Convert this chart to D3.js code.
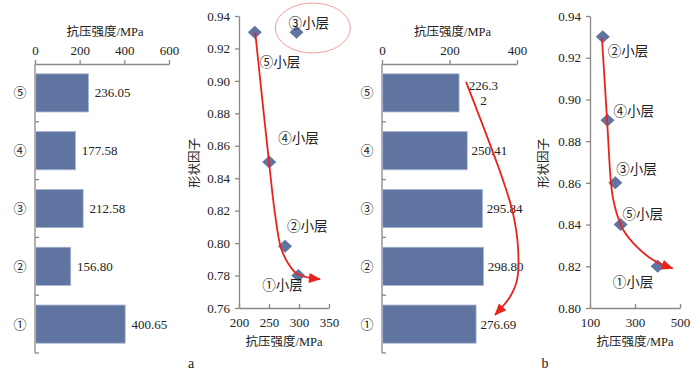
<!DOCTYPE html>
<html>
<head>
<meta charset="utf-8">
<script src="https://cdn.jsdelivr.net/npm/d3@7/dist/d3.min.js"></script>
<style>
    body { margin: 0; background: #fff; }
    svg text { font-family: "Liberation Serif", "Times New Roman", "Noto Sans CJK SC", serif; fill: #222; }
</style>
</head>
<body>
<div id="chart"></div>
<script>
// ---- data ----
const layers = ["⑤", "④", "③", "②", "①"];
const strengthA = [236.05, 177.58, 212.58, 156.80, 400.65];
const strengthB = [226.32, 250.41, 295.84, 298.80, 276.69];
const barLabelsA = [["236.05"], ["177.58"], ["212.58"], ["156.80"], ["400.65"]];
const barLabelsB = [["226.3", "2"], ["250.41"], ["295.84"], ["298.80"], ["276.69"]];
const barTicksA = [0, 200, 400, 600];
const barTicksB = [0, 200, 400];

const pointLabels = ["⑤小层", "④小层", "③小层", "②小层", "①小层"];
const shapeStrengthA = [226.32, 250.41, 295.84, 276.69, 298.80];
const shapeFactorA = [0.93, 0.85, 0.93, 0.798, 0.78];
const shapeStrengthB = [236.05, 177.58, 212.58, 156.80, 400.65];
const shapeFactorB = [0.84, 0.89, 0.86, 0.93, 0.82];
const scatterXTicksA = [200, 250, 300, 350];
const scatterXTicksB = [100, 300, 500];
const scatterYTicksA = [0.76, 0.78, 0.80, 0.82, 0.84, 0.86, 0.88, 0.90, 0.92, 0.94];
const scatterYTicksB = [0.80, 0.82, 0.84, 0.86, 0.88, 0.90, 0.92, 0.94];

// hand-drawn red trend arrows (data units)
const trendA = [[227, 0.93], [250, 0.85], [260, 0.818], [270, 0.797], [282, 0.7875], [297, 0.781], [335, 0.7778]];
const trendB = [[153, 0.9295], [176, 0.89], [192, 0.8614], [201, 0.8534], [218.5, 0.8454], [248, 0.8374], [307.5, 0.8294], [381, 0.823], [467, 0.819]];
// arrow over bar chart b: [strength, row position (0 = top of axis, 5 = bottom)]
const trendBarB = [[249, 0.31], [358, 2.0], [388, 2.58], [403, 3.17], [400, 3.74], [379, 4.03], [335, 4.34]];
const highlightA = [323, 0.9326];

const AXIS = "#8c8782";
const BAR = "#5f74a0";
const RED = "#e8231c";

const svg = d3.select("#chart").append("svg")
    .attr("width", 700)
    .attr("height", 376);

svg.append("defs").append("marker")
    .attr("id", "arrow")
    .attr("viewBox", "0 0 12 10")
    .attr("refX", 11)
    .attr("refY", 5)
    .attr("markerWidth", 13)
    .attr("markerHeight", 10)
    .attr("markerUnits", "userSpaceOnUse")
    .attr("orient", "auto")
    .append("path")
    .attr("d", "M0,0 L12,5 L0,10 Z")
    .attr("fill", RED);

function styleAxis(g) {
    g.selectAll("path, line").attr("stroke", AXIS).attr("stroke-width", 1.3);
    g.selectAll("text").attr("font-size", 13).attr("fill", "#222")
        .style("font-family", '"Liberation Serif", "Times New Roman", serif');
}

function drawBars(cfg) {
    const x = d3.scaleLinear().domain(cfg.domain).range(cfg.xRange);
    const y = d3.scaleBand().domain(layers).range([64, 353]).paddingInner(0.34).paddingOuter(0.17);

    const g = svg.append("g");

    // top value axis
    g.append("g")
        .attr("transform", "translate(0,64)")
        .call(d3.axisTop(x).tickValues(cfg.ticks).tickFormat(d3.format("d")).tickSize(4).tickSizeOuter(0).tickPadding(5))
        .call(styleAxis);

    g.append("text")
        .attr("x", (cfg.xRange[0] + cfg.xRange[1]) / 2 + 3)
        .attr("y", 32)
        .attr("text-anchor", "middle")
        .attr("dominant-baseline", "central")
        .attr("font-size", 12.5)
        .text("抗压强度/MPa");

    // category axis
    g.append("line")
        .attr("x1", cfg.xRange[0]).attr("x2", cfg.xRange[0])
        .attr("y1", 64).attr("y2", 353)
        .attr("stroke", AXIS).attr("stroke-width", 1.3);
    const bounds = layers.map((d, i) => 64 + i * y.step()).concat([353]);
    g.selectAll(".cat-tick")
        .data(bounds.slice(1))
        .join("line")
        .attr("class", "cat-tick")
        .attr("x1", cfg.xRange[0]).attr("x2", cfg.xRange[0] + 4)
        .attr("y1", d => d).attr("y2", d => d)
        .attr("stroke", AXIS).attr("stroke-width", 1.3);
    g.selectAll(".cat-label")
        .data(layers)
        .join("text")
        .attr("class", "cat-label")
        .attr("x", cfg.catX)
        .attr("y", d => y(d) + y.bandwidth() / 2)
        .attr("text-anchor", "middle")
        .attr("dominant-baseline", "central")
        .attr("font-size", 13)
        .text(d => d);

    g.selectAll("rect")
        .data(cfg.values)
        .join("rect")
        .attr("x", x(0) + 0.7)
        .attr("y", (d, i) => y(layers[i]))
        .attr("width", d => x(d) - x(0))
        .attr("height", y.bandwidth())
        .attr("fill", BAR)
        .attr("stroke", "#a8b5cf")
        .attr("stroke-width", 0.8);

    const labels = g.selectAll(".val")
        .data(cfg.labels)
        .join("text")
        .attr("class", "val")
        .attr("font-size", 13)
        .attr("text-anchor", d => d.length > 1 ? "middle" : "start")
        .attr("x", (d, i) => x(cfg.values[i]) + (d.length > 1 ? 25 : cfg.labelGap))
        .attr("y", (d, i) => y(layers[i]) + y.bandwidth() / 2 - (d.length - 1) * 7.5);
    labels.selectAll("tspan")
        .data(d => d)
        .join("tspan")
        .attr("x", function () { return this.parentNode.getAttribute("x"); })
        .attr("dy", (d, i) => i === 0 ? "0.35em" : "1.15em")
        .text(d => d);

    return { x, y };
}

function drawScatter(cfg) {
    const x = d3.scaleLinear().domain(cfg.xDomain).range(cfg.xRange);
    const y = d3.scaleLinear().domain(cfg.yDomain).range([308, 16]);
    const g = svg.append("g");

    g.append("g")
        .attr("transform", `translate(${cfg.xRange[0]},0)`)
        .call(d3.axisLeft(y).tickValues(cfg.yTicks).tickFormat(d3.format(".2f")).tickSize(4).tickSizeOuter(0).tickPadding(5))
        .call(styleAxis);

    g.append("g")
        .attr("transform", "translate(0,308)")
        .call(d3.axisBottom(x).tickValues(cfg.xTicks).tickFormat(d3.format("d")).tickSize(-4).tickSizeOuter(0).tickPadding(10))
        .call(styleAxis);

    g.append("text")
        .attr("x", (cfg.xRange[0] + cfg.xRange[1]) / 2)
        .attr("y", 342)
        .attr("text-anchor", "middle")
        .attr("dominant-baseline", "central")
        .attr("font-size", 12.5)
        .text("抗压强度/MPa");

    g.append("text")
        .attr("transform", `translate(${cfg.yTitleX},163) rotate(-90)`)
        .attr("text-anchor", "middle")
        .attr("dominant-baseline", "central")
        .attr("font-size", 12.5)
        .text("形状因子");

    const line = d3.line()
        .x(d => x(d[0]))
        .y(d => y(d[1]))
        .curve(d3.curveCatmullRom.alpha(0.5));

    g.selectAll(".pt")
        .data(cfg.xs)
        .join("path")
        .attr("class", "pt")
        .attr("transform", (d, i) => `translate(${x(d)},${y(cfg.ys[i])})`)
        .attr("d", "M0,-6.5L7,0L0,6.5L-7,0Z")
        .attr("fill", BAR);

    g.append("path")
        .attr("d", line(cfg.trend))
        .attr("fill", "none")
        .attr("stroke", RED)
        .attr("stroke-width", 1.8)
        .attr("marker-end", "url(#arrow)");

    g.selectAll(".pl")
        .data(pointLabels)
        .join("text")
        .attr("class", "pl")
        .attr("x", (d, i) => x(cfg.xs[i]) + cfg.offsets[i][0])
        .attr("y", (d, i) => y(cfg.ys[i]) + cfg.offsets[i][1])
        .attr("dominant-baseline", "central")
        .attr("font-size", 13.5)
        .text(d => d);

    return { x, y, g };
}

drawBars({ domain: [0, 600], xRange: [35, 169], ticks: barTicksA, values: strengthA, labels: barLabelsA, catX: 20, labelGap: 7 });
const barB = drawBars({ domain: [0, 400], xRange: [382, 517], ticks: barTicksB, values: strengthB, labels: barLabelsB, catX: 367, labelGap: 5 });

const rowY = d3.scaleLinear().domain([0, 5]).range([64, 353]);
svg.append("path")
    .attr("d", d3.line().x(d => barB.x(d[0])).y(d => rowY(d[1])).curve(d3.curveCatmullRom.alpha(0.5))(trendBarB))
    .attr("fill", "none")
    .attr("stroke", RED)
    .attr("stroke-width", 1.8)
    .attr("marker-end", "url(#arrow)");

const scA = drawScatter({
    xDomain: [200, 350], xRange: [239, 329], yDomain: [0.76, 0.94],
    xTicks: scatterXTicksA, yTicks: scatterYTicksA, xs: shapeStrengthA, ys: shapeFactorA,
    trend: trendA, yTitleX: 195,
    offsets: [[5, 30], [9, -24], [-8, -9], [2, -20], [-36, 10]]
});
drawScatter({
    xDomain: [100, 500], xRange: [590, 680], yDomain: [0.80, 0.94],
    xTicks: scatterXTicksB, yTicks: scatterYTicksB, xs: shapeStrengthB, ys: shapeFactorB,
    trend: trendB, yTitleX: 544,
    offsets: [[2, -10], [6, -9], [1, -13], [5, 15], [-45, 16]]
});

// pink ellipse around ③ in panel a
svg.append("ellipse")
    .attr("cx", scA.x(highlightA[0]))
    .attr("cy", scA.y(highlightA[1]))
    .attr("rx", 37.5)
    .attr("ry", 25)
    .attr("fill", "none")
    .attr("stroke", "#f0a09a")
    .attr("stroke-width", 1);

svg.append("text").attr("x", 191).attr("y", 363).attr("text-anchor", "middle")
    .attr("dominant-baseline", "central").attr("font-size", 14).text("a");
svg.append("text").attr("x", 545).attr("y", 363).attr("text-anchor", "middle")
    .attr("dominant-baseline", "central").attr("font-size", 14).text("b");
</script>
</body>
</html>
